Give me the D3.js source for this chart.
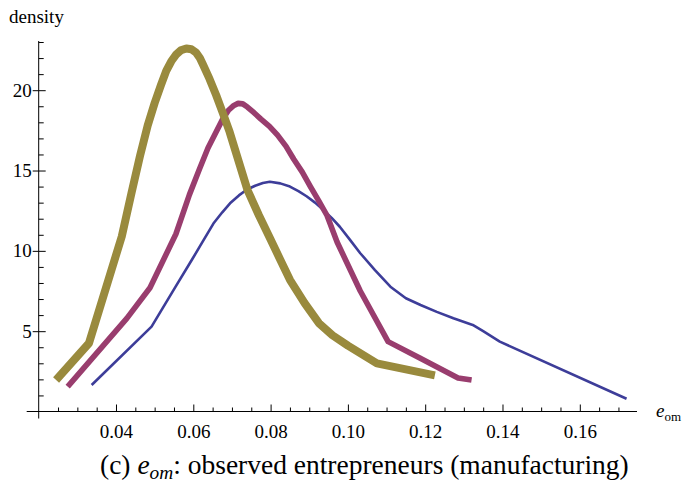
<!DOCTYPE html>
<html>
<head>
<meta charset="utf-8">
<script src="https://cdn.jsdelivr.net/npm/d3@7"></script>
<style>
  html, body { margin: 0; padding: 0; background: #fff; }
  svg { display: block; }
  svg text { font-family: "Liberation Serif", serif; }
</style>
</head>
<body>
<svg id="chart" width="683" height="487"></svg>
<script>
// Density estimates of e_om, three specifications
const seriesBlue = [
  [0.0337, 1.65], [0.0492, 5.28], [0.0555, 7.8], [0.0596, 9.43], [0.0625, 10.6],
  [0.0652, 11.7], [0.0675, 12.4], [0.0695, 12.96], [0.0718, 13.45], [0.0738, 13.8],
  [0.0760, 14.05], [0.0780, 14.22], [0.0798, 14.3], [0.0825, 14.2], [0.0850, 14.0],
  [0.0872, 13.72], [0.0893, 13.4], [0.0915, 13.0], [0.0936, 12.55], [0.0958, 12.05],
  [0.0979, 11.5], [0.1005, 10.7], [0.1032, 9.85], [0.1070, 8.8], [0.1110, 7.77],
  [0.1150, 7.05], [0.1188, 6.63], [0.1230, 6.2], [0.1273, 5.8], [0.1323, 5.39],
  [0.1350, 5.0], [0.1393, 4.35], [0.1721, 0.79]
];
const seriesMagenta = [
  [0.0275, 1.55], [0.0428, 5.8], [0.0488, 7.7], [0.0555, 11.05], [0.0590, 13.5],
  [0.0616, 15.1], [0.0638, 16.4], [0.0659, 17.4], [0.0676, 18.2], [0.0691, 18.75],
  [0.0705, 19.05], [0.0716, 19.18], [0.0728, 19.15], [0.0740, 18.95], [0.0757, 18.6],
  [0.0775, 18.2], [0.0797, 17.75], [0.0818, 17.2], [0.0840, 16.5], [0.0860, 15.7],
  [0.0882, 14.9], [0.0903, 14.0], [0.0925, 13.1], [0.0946, 12.2], [0.0972, 10.55],
  [0.1032, 7.5], [0.1104, 4.35], [0.1186, 3.33], [0.1285, 2.09], [0.1320, 1.96]
];
const seriesOlive = [
  [0.0245, 1.96], [0.0330, 4.25], [0.0415, 10.9], [0.0440, 13.6], [0.0462, 15.9],
  [0.0482, 17.8], [0.0500, 19.2], [0.0516, 20.3], [0.0530, 21.2], [0.0543, 21.8],
  [0.0555, 22.2], [0.0568, 22.48], [0.0582, 22.6], [0.0595, 22.55], [0.0607, 22.35],
  [0.0617, 22.0], [0.0625, 21.6], [0.0642, 20.7], [0.0659, 19.7], [0.0676, 18.6],
  [0.0694, 17.4], [0.0740, 13.8], [0.0770, 12.2], [0.0800, 10.7], [0.0825, 9.45],
  [0.0850, 8.2], [0.0888, 6.75], [0.0925, 5.5], [0.0960, 4.75], [0.1000, 4.1],
  [0.1075, 3.0], [0.1225, 2.25]
];
const xMajorTicks = [0.04, 0.06, 0.08, 0.10, 0.12, 0.14, 0.16];
const xTickLabels = ["0.04", "0.06", "0.08", "0.10", "0.12", "0.14", "0.16"];
const yMajorTicks = [5, 10, 15, 20];
const yTickLabels = ["5", "10", "15", "20"];

const serif = "\"Liberation Serif\", serif";
const svg = d3.select("#chart");

const x = d3.scaleLinear().domain([0.02, 0.1748]).range([38.7, 637]);
const y = d3.scaleLinear().domain([0, 23]).range([411.5, 42]);

const xMinor = d3.range(0.025, 0.1701, 0.005).filter(v => !xMajorTicks.some(t => Math.abs(t - v) < 1e-9));
const yMinor = d3.range(1, 23.5, 1).filter(v => v % 5 !== 0);

const axisColor = "#000";

// x axis (ticks pointing inward / upward)
const gx = svg.append("g").attr("transform", `translate(0,${y(0)})`);
gx.call(d3.axisBottom(x).tickValues(xMinor).tickFormat("").tickSizeInner(-4).tickSizeOuter(0));
gx.call(g => g.select(".domain").remove());
const gx2 = svg.append("g").attr("transform", `translate(0,${y(0)})`);
gx2.call(d3.axisBottom(x).tickValues(xMajorTicks)
  .tickFormat((d, i) => xTickLabels[i]).tickSizeInner(-7).tickSizeOuter(0).tickPadding(13));
gx2.call(g => g.select(".domain").remove());
svg.append("line")
  .attr("x1", x.range()[0] - 12).attr("x2", x.range()[1])
  .attr("y1", y(0)).attr("y2", y(0))
  .attr("stroke", axisColor).attr("stroke-width", 1);

// y axis
const gy = svg.append("g").attr("transform", `translate(${x(0.02)},0)`);
gy.call(d3.axisRight(y).tickValues(yMinor).tickFormat("").tickSizeInner(5).tickSizeOuter(0));
gy.call(g => g.select(".domain").remove());
const gy2 = svg.append("g").attr("transform", `translate(${x(0.02)},0)`);
gy2.call(d3.axisRight(y).tickValues(yMajorTicks).tickFormat("").tickSizeInner(7).tickSizeOuter(0));
gy2.call(g => g.select(".domain").remove());
const gy3 = svg.append("g").attr("transform", `translate(${x(0.02)},0)`);
gy3.call(d3.axisLeft(y).tickValues(yMajorTicks)
  .tickFormat((d, i) => yTickLabels[i]).tickSizeInner(6).tickSizeOuter(0).tickPadding(1));
gy3.call(g => g.select(".domain").remove());
svg.append("line")
  .attr("x1", x(0.02)).attr("x2", x(0.02))
  .attr("y1", 41).attr("y2", y(0) + 7)
  .attr("stroke", axisColor).attr("stroke-width", 1);

svg.selectAll(".tick line").attr("stroke", axisColor).attr("stroke-width", 1);
svg.selectAll(".tick text")
  .attr("fill", "#000")
  .style("font-family", serif)
  .style("font-size", "19px");

// curves
const line = d3.line().x(d => x(d[0])).y(d => y(d[1])).curve(d3.curveLinear);

const curves = [
  { data: seriesBlue, color: "#3d3d99", width: 2.6 },
  { data: seriesMagenta, color: "#993d6e", width: 5.6 },
  { data: seriesOlive, color: "#998a3d", width: 8 }
];
svg.append("g").selectAll("path").data(curves).join("path")
  .attr("d", c => line(c.data))
  .attr("fill", "none")
  .attr("stroke", c => c.color)
  .attr("stroke-width", c => c.width)
  .attr("stroke-linejoin", "round")
  .attr("stroke-linecap", "butt");

// axis labels
svg.append("text").attr("x", 9).attr("y", 23)
  .style("font-family", serif).style("font-size", "19px").text("density");

const xl = svg.append("text").attr("x", 656).attr("y", 417)
  .style("font-family", serif).style("font-size", "19px");
xl.append("tspan").style("font-style", "italic").text("e");
xl.append("tspan").attr("dy", 4).style("font-size", "13px").text("om");

// caption, stretched horizontally to span 100..629
const capLeft = 100, capRight = 629, capY = 474;
const capG = svg.append("g");
const cap = capG.append("text").attr("x", 0).attr("y", 0)
  .style("font-family", serif).style("font-size", "27px");
cap.append("tspan").text("(c) ");
cap.append("tspan").style("font-style", "italic").text("e");
cap.append("tspan").attr("dy", 5).style("font-style", "italic").style("font-size", "19px").text("om");
cap.append("tspan").attr("dy", -5).text(": observed entrepreneurs (manufacturing)");
const capW = cap.node().getComputedTextLength();
capG.attr("transform", `translate(${capLeft},${capY}) scale(${(capRight - capLeft) / capW},1)`);
</script>
</body>
</html>
